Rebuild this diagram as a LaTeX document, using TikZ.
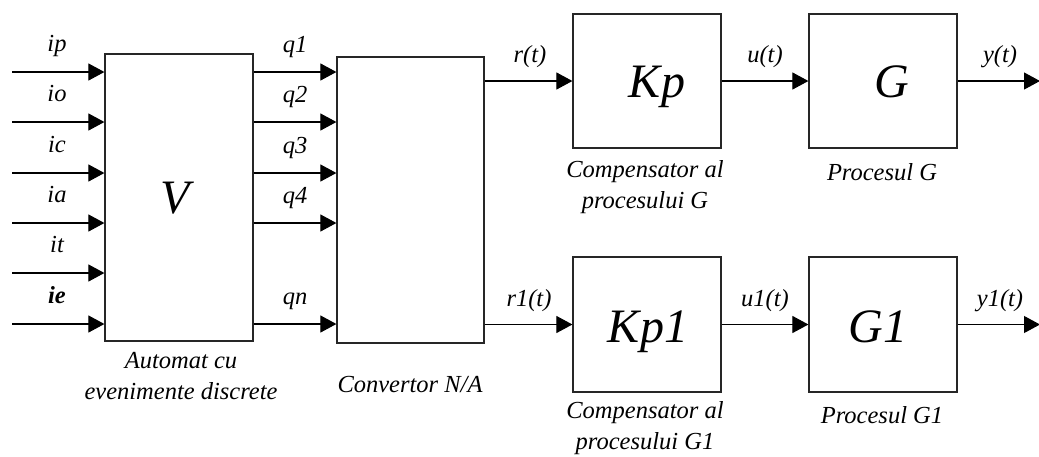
\documentclass[tikz,border=0pt]{standalone}
\usepackage{fontspec}
\setmainfont{Liberation Serif}
\usepackage{tikz}
\usetikzlibrary{arrows.meta}

\begin{document}
\begin{tikzpicture}[x=1pt, y=-1pt,
  bloc/.style={draw=black!85, line width=1.2pt},
  mic/.style={font=\fontsize{24.5}{31}\selectfont\itshape},
  mare/.style={font=\fontsize{48}{56}\selectfont\itshape},
  sag/.style={-{Triangle[length=16pt,width=17pt]}, line width=1.1pt}]

\useasboundingbox (0,0) rectangle (1039,456);

% blocurile
\node[bloc, minimum width=148pt, minimum height=287pt] (V) at (179,197.5) {};
\node[bloc, minimum width=147pt, minimum height=286pt] (Conv) at (410.5,200) {};
\node[bloc, minimum width=148pt, minimum height=134pt] (Kp) at (647,81) {};
\node[bloc, minimum width=148pt, minimum height=134pt] (G) at (883,81) {};
\node[bloc, minimum width=148pt, minimum height=135pt] (Kp1) at (647,324.5) {};
\node[bloc, minimum width=148pt, minimum height=135pt] (G1) at (883,324.5) {};

\node[mare, anchor=base] (tV) at (175,213) {V};
\node[mare, anchor=base] (tKp) at (657,97) {Kp};
\node[mare, anchor=base] (tG) at (892,97) {G};
\node[mare, anchor=base] (tKp1) at (648,342) {Kp1};
\node[mare, anchor=base] (tG1) at (878,342) {G1};

% intrari
\coordinate (in1) at (12,72); \coordinate (in2) at (12,122); \coordinate (in3) at (12,173);
\coordinate (in4) at (12,223); \coordinate (in5) at (12,273); \coordinate (in6) at (12,324);
\draw[sag] (in1) -- (in1 -| V.west); \draw[sag] (in2) -- (in2 -| V.west); \draw[sag] (in3) -- (in3 -| V.west);
\draw[sag] (in4) -- (in4 -| V.west); \draw[sag] (in5) -- (in5 -| V.west); \draw[sag] (in6) -- (in6 -| V.west);
\node[mic, anchor=base] (lip) at (57,51) {ip};
\node[mic, anchor=base] (lio) at (57,101) {io};
\node[mic, anchor=base] (lic) at (57,152) {ic};
\node[mic, anchor=base] (lia) at (57,202) {ia};
\node[mic, anchor=base] (lit) at (57,252) {it};
\node[mic, anchor=base] (lie) at (57,303) {\bfseries ie};

% iesiri automat -> convertor
\draw[sag] (V.east |- in1) -- (Conv.west |- in1); \draw[sag] (V.east |- in2) -- (Conv.west |- in2);
\draw[sag] (V.east |- in3) -- (Conv.west |- in3); \draw[sag] (V.east |- in4) -- (Conv.west |- in4);
\draw[sag] (V.east |- in6) -- (Conv.west |- in6);
\node[mic, anchor=base] (lq1) at (295,52) {q1};
\node[mic, anchor=base] (lq2) at (295,102) {q2};
\node[mic, anchor=base] (lq3) at (295,153) {q3};
\node[mic, anchor=base] (lq4) at (295,203) {q4};
\node[mic, anchor=base] (lqn) at (295,304) {qn};

% cele doua bucle
\coordinate (yout) at (1040,81); \coordinate (y1out) at (1040,324.5);
\draw[sag] (Conv.east |- Kp.west) -- (Kp.west);
\draw[sag] (Kp.east) -- (G.west);
\draw[sag] (G.east) -- (yout);
\draw[sag] (Conv.east |- Kp1.west) -- (Kp1.west);
\draw[sag] (Kp1.east) -- (G1.west);
\draw[sag] (G1.east) -- (y1out);
\node[mic, anchor=base] (lr) at (530,62) {r(t)};
\node[mic, anchor=base] (lu) at (765,62) {u(t)};
\node[mic, anchor=base] (ly) at (1000,62) {y(t)};
\node[mic, anchor=base] (lr1) at (529,306) {r1(t)};
\node[mic, anchor=base] (lu1) at (765,306) {u1(t)};
\node[mic, anchor=base] (ly1) at (1000,306) {y1(t)};

% denumiri
\node[mic, align=center] (nV) at (181,376) {Automat cu\\evenimente discrete};
\node[mic, anchor=base] (nConv) at (410,392) {Convertor N/A};
\node[mic, align=center] (nKp) at (645,187) {Compensator al\\procesului G};
\node[mic, anchor=base] (nG) at (882,180) {Procesul G};
\node[mic, align=center] (nKp1) at (645,428) {Compensator al\\procesului G1};
\node[mic, anchor=base] (nG1) at (882,423) {Procesul G1};

\end{tikzpicture}
\end{document}
